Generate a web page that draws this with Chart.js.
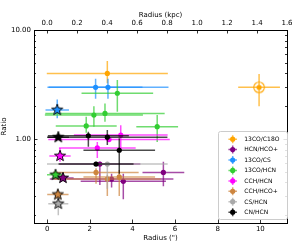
<!DOCTYPE html>
<html>
<head>
<meta charset="utf-8">
<script src="https://cdn.jsdelivr.net/npm/chart.js@4.4.1/dist/chart.umd.min.js"></script>
<style>
  html, body { margin: 0; padding: 0; background: #fff; }
  #wrap { width: 299px; height: 243px; }
</style>
</head>
<body>
<div id="wrap"><canvas id="ratioChart" width="299" height="243"></canvas></div>
<script>
/* ===== data: [radius ("), radius err, ratio, ratio err low, ratio err high, marker] ===== */
const seriesNames = ["13CO/C18O", "HCN/HCO+", "13CO/CS", "13CO/HCN", "CCH/HCN", "CCH/HCO+", "CS/HCN", "CN/HCN"];
const seriesColors = ["#ffa500", "#800080", "#1e90ff", "#32cd32", "#ff00ff", "#cd853f", "#a9a9a9", "#000000"];

const coC18o = [
  [2.82, 2.84, 4.00, 0.75, 1.20, "o"],
  [9.94, 0.98, 2.98, 0.98, 0.98, "c"]
];
const hcnHcop = [
  [0.74, 0.50, 0.44, 0.03, 0.03, "s"],
  [2.47, 1.90, 0.59, 0.21, 0.03, "o"],
  [3.02, 2.90, 0.43, 0.07, 0.05, "o"],
  [3.57, 2.00, 0.41, 0.13, 0.07, "o"],
  [5.45, 0.98, 0.495, 0.125, 0.125, "o"]
];
const coCs = [
  [0.47, 0.55, 1.85, 0.30, 0.45, "s"],
  [2.27, 2.20, 2.98, 0.64, 0.60, "o"],
  [2.85, 2.84, 2.98, 0.64, 0.60, "o"]
];
const coHcn = [
  [0.39, 0.40, 0.47, 0.04, 0.04, "s"],
  [1.83, 1.43, 1.32, 0.18, 0.28, "o"],
  [2.19, 2.30, 1.66, 0.36, 0.34, "o"],
  [2.71, 2.80, 1.72, 0.28, 0.40, "o"],
  [3.29, 1.68, 2.63, 0.85, 0.85, "o"],
  [5.16, 0.98, 1.30, 0.36, 0.36, "o"]
];
const cchHcn = [
  [0.60, 0.50, 0.70, 0.08, 0.13, "s"],
  [2.35, 1.80, 0.83, 0.16, 0.11, "o"],
  [2.90, 2.85, 0.99, 0.03, 0.03, "o"],
  [3.45, 2.20, 1.09, 0.30, 0.25, "o"]
];
const cchHcop = [
  [0.50, 0.50, 0.31, 0.024, 0.03, "s"],
  [2.29, 2.00, 0.495, 0.105, 0.045, "o"],
  [2.82, 2.50, 0.43, 0.13, 0.04, "o"],
  [3.38, 1.68, 0.45, 0.15, 0.07, "o"]
];
const csHcn = [
  [0.52, 0.47, 0.255, 0.055, 0.031, "s"],
  [2.82, 2.83, 0.59, 0.24, 0.02, "o"]
];
const cnHcn = [
  [0.52, 0.50, 1.04, 0.03, 0.03, "s"],
  [1.93, 1.90, 1.07, 0.22, 0.10, "o"],
  [2.29, 1.76, 0.59, 0.02, 0.03, "o"],
  [2.82, 2.82, 1.04, 0.16, 0.17, "o"],
  [3.38, 1.68, 0.79, 0.31, 0.23, "o"]
];
const seriesData = [coC18o, hcnHcop, coCs, coHcn, cchHcn, cchHcop, csHcn, cnHcn];

const radiusTicks = [0, 2, 4, 6, 8, 10];
const kpcTicks = [0.0, 0.2, 0.4, 0.6, 0.8, 1.0, 1.2, 1.4, 1.6];
const ratioTicks = [0.2, 0.3, 0.4, 0.5, 0.6, 0.7, 0.8, 0.9, 1, 2, 3, 4, 5, 6, 7, 8, 9, 10];
const ratioLabels = [1, 10];

/* ===== marker images ===== */
function starImage(color) {
  const c = document.createElement("canvas");
  c.width = c.height = 16;
  const g = c.getContext("2d");
  g.beginPath();
  for (let k = 0; k < 10; k++) {
    const r = k % 2 ? 2.4 : 5.8;
    const a = -Math.PI / 2 + k * Math.PI / 5;
    g.lineTo(8 + r * Math.cos(a), 8 + r * Math.sin(a));
  }
  g.closePath();
  g.fillStyle = color;
  g.fill();
  g.lineWidth = 0.9;
  g.strokeStyle = "#000";
  g.stroke();
  return c;
}

function ringImage(color) {
  const c = document.createElement("canvas");
  c.width = c.height = 14;
  const g = c.getContext("2d");
  g.beginPath();
  g.arc(7, 7, 5.3, 0, Math.PI * 2);
  g.lineWidth = 1.1;
  g.strokeStyle = color;
  g.stroke();
  g.beginPath();
  g.arc(7, 7, 2.6, 0, Math.PI * 2);
  g.fillStyle = color;
  g.fill();
  return c;
}

/* ===== datasets ===== */
const datasets = [];
seriesData.forEach((rows, i) => {
  const plain = rows.filter(r => r[5] !== "s");
  const ring = ringImage(seriesColors[i]);
  datasets.push({
    label: seriesNames[i],
    data: plain.map(r => ({ x: r[0], y: r[2] })),
    backgroundColor: seriesColors[i],
    borderWidth: 0,
    pointRadius: 2.6,
    pointStyle: plain.map(r => r[5] === "c" ? ring : "circle"),
    order: 100 - i,
    errRows: rows,
    errColor: seriesColors[i]
  });
});
seriesData.forEach((rows, i) => {
  const stars = rows.filter(r => r[5] === "s");
  datasets.push({
    label: seriesNames[i] + " centre",
    data: stars.map(r => ({ x: r[0], y: r[2] })),
    backgroundColor: seriesColors[i],
    pointRadius: 6,
    pointStyle: starImage(seriesColors[i]),
    order: 50 - i
  });
});

/* ===== plugins ===== */
const errorBars = {
  id: "errorBars",
  beforeDatasetDraw(chart, args) {
    const ds = chart.data.datasets[args.index];
    if (!ds.errRows) return;
    const { ctx, chartArea: a, scales: { x, y } } = chart;
    ctx.save();
    ctx.beginPath();
    ctx.rect(a.left, a.top, a.right - a.left, a.bottom - a.top);
    ctx.clip();
    ctx.strokeStyle = ds.errColor;
    ctx.globalAlpha = 0.7;
    ctx.lineWidth = 1.5;
    ds.errRows.forEach(r => {
      const px = x.getPixelForValue(r[0]);
      const py = y.getPixelForValue(r[2]);
      ctx.beginPath();
      ctx.moveTo(x.getPixelForValue(r[0] - r[1]), py);
      ctx.lineTo(x.getPixelForValue(r[0] + r[1]), py);
      ctx.moveTo(px, y.getPixelForValue(r[2] - r[3]));
      ctx.lineTo(px, y.getPixelForValue(r[2] + r[4]));
      ctx.stroke();
    });
    ctx.restore();
  }
};

const innerTicks = {
  id: "innerTicks",
  afterDatasetsDraw(chart) {
    const { ctx, chartArea: a, scales } = chart;
    ctx.save();
    ctx.strokeStyle = "#000";
    ctx.lineWidth = 0.8;
    ctx.beginPath();
    radiusTicks.forEach(v => {
      const p = Math.round(scales.x.getPixelForValue(v)) + 0.5;
      ctx.moveTo(p, a.bottom); ctx.lineTo(p, a.bottom - 3.5);
    });
    kpcTicks.forEach(v => {
      const p = Math.round(scales.x2.getPixelForValue(v)) + 0.5;
      ctx.moveTo(p, a.top); ctx.lineTo(p, a.top + 3.5);
    });
    ratioTicks.forEach(v => {
      const len = ratioLabels.includes(v) ? 3.5 : 2;
      const p = Math.round(scales.y.getPixelForValue(v)) + 0.5;
      ctx.moveTo(a.left, p); ctx.lineTo(a.left + len, p);
      ctx.moveTo(a.right, p); ctx.lineTo(a.right - len, p);
    });
    ctx.stroke();
    ctx.restore();
  }
};

const boxLegend = {
  id: "boxLegend",
  afterDraw(chart) {
    const { ctx } = chart;
    const left = 218.5, top = 131.5, w = 69, h = 88;
    ctx.save();
    ctx.beginPath();
    ctx.roundRect(left, top, w, h, 2);
    ctx.fillStyle = "rgba(255,255,255,0.85)";
    ctx.fill();
    ctx.strokeStyle = "#cccccc";
    ctx.lineWidth = 1;
    ctx.stroke();
    ctx.font = "6px 'DejaVu Sans'";
    ctx.textBaseline = "middle";
    seriesNames.forEach((name, i) => {
      const cy = 139.2 + i * 10.42;
      const cx = 232.7;
      ctx.globalAlpha = 0.7;
      ctx.strokeStyle = seriesColors[i];
      ctx.lineWidth = 1.5;
      ctx.beginPath();
      ctx.moveTo(cx - 4.3, cy); ctx.lineTo(cx + 4.3, cy);
      ctx.moveTo(cx, cy - 4); ctx.lineTo(cx, cy + 4);
      ctx.stroke();
      ctx.globalAlpha = 1;
      ctx.fillStyle = seriesColors[i];
      ctx.beginPath();
      ctx.arc(cx, cy, 2.6, 0, Math.PI * 2);
      ctx.fill();
      ctx.fillStyle = "#000";
      ctx.fillText(name, 244.3, cy + 0.3);
    });
    ctx.restore();
  }
};

/* ===== chart ===== */
Chart.defaults.font.family = "'DejaVu Sans'";
Chart.defaults.color = "#000";

const axisFont = { size: 7 };
const border = { display: true, color: "#000", width: 1 };
const noGrid = { display: false, drawTicks: false };

new Chart(document.getElementById("ratioChart"), {
  type: "scatter",
  data: { datasets },
  options: {
    responsive: false,
    animation: false,
    devicePixelRatio: 1,
    events: [],
    layout: { padding: 0 },
    plugins: { legend: { display: false }, tooltip: { enabled: false } },
    scales: {
      x: {
        type: "linear", position: "bottom", min: -0.62, max: 11.25,
        afterBuildTicks: s => { s.ticks = radiusTicks.map(v => ({ value: v })); },
        ticks: { font: axisFont, padding: 2, autoSkip: false, maxRotation: 0, callback: v => String(v) },
        grid: noGrid, border,
        title: { display: true, text: 'Radius (")', font: axisFont, padding: { top: 0, bottom: 0.5 } },
        afterFit: s => { s.height = 20; }
      },
      x2: {
        type: "linear", position: "top", min: -0.088, max: 1.6,
        afterBuildTicks: s => { s.ticks = kpcTicks.map(v => ({ value: v })); },
        ticks: { font: axisFont, padding: 2.5, autoSkip: false, maxRotation: 0, callback: v => v.toFixed(1) },
        grid: noGrid, border,
        title: { display: true, text: "Radius (kpc)", font: axisFont, padding: { top: 10.8, bottom: 0 } },
        afterFit: s => { s.height = 30; }
      },
      y: {
        type: "logarithmic", position: "left", min: 0.17, max: 10,
        afterBuildTicks: s => { s.ticks = ratioTicks.map(v => ({ value: v })); },
        ticks: { font: axisFont, padding: 3, autoSkip: false, callback: v => ratioLabels.includes(v) ? v.toFixed(2) : "" },
        grid: noGrid, border,
        title: { display: true, text: "Ratio", font: axisFont, padding: 0 },
        afterFit: s => { s.width = 34; }
      },
      y2: {
        type: "logarithmic", position: "right", min: 0.17, max: 10,
        ticks: { display: false },
        grid: noGrid, border,
        afterFit: s => { s.width = 12; }
      }
    }
  },
  plugins: [errorBars, innerTicks, boxLegend]
});
</script>
</body>
</html>
